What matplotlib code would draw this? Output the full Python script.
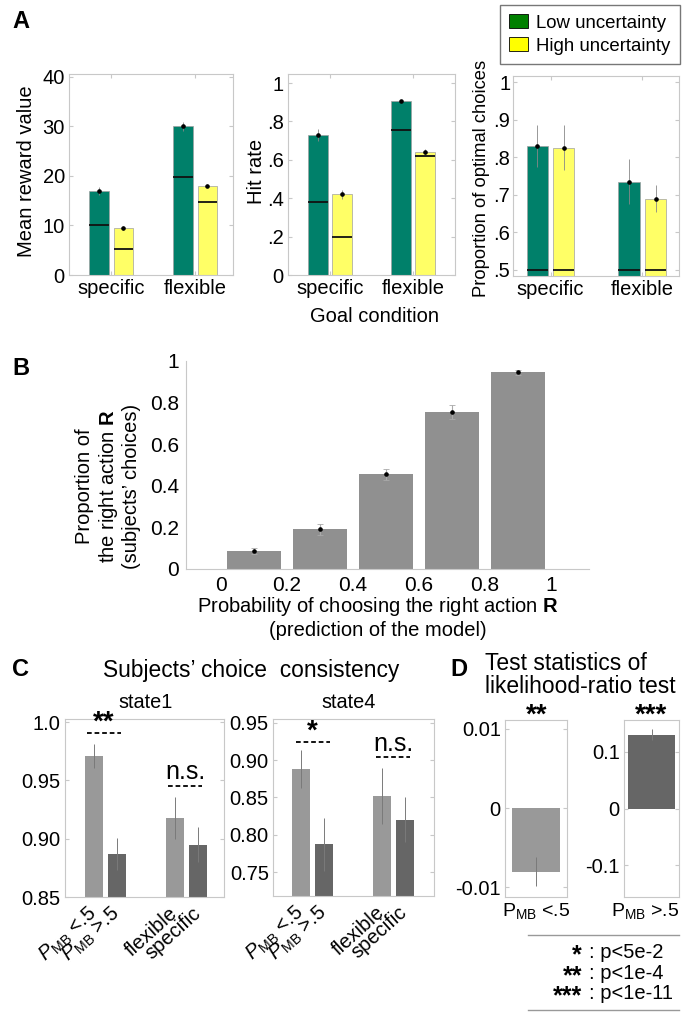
import matplotlib
matplotlib.use("Agg")
import matplotlib.pyplot as plt
from matplotlib.patches import Patch
from matplotlib.transforms import offset_copy
import numpy as np

# ---------------- data ----------------
goal_conditions = ["specific", "flexible"]

reward_low = [17.0, 30.0]
reward_high = [9.5, 18.0]
reward_low_err = [0.8, 1.0]
reward_high_err = [0.4, 0.3]
reward_low_ref = [10.0, 19.7]
reward_high_ref = [5.3, 14.8]

hit_low = [0.73, 0.905]
hit_high = [0.42, 0.64]
hit_low_err = [0.03, 0.005]
hit_high_err = [0.025, 0.015]
hit_low_ref = [0.38, 0.755]
hit_high_ref = [0.20, 0.62]

opt_low = [0.83, 0.735]
opt_high = [0.825, 0.69]
opt_low_err = [0.055, 0.06]
opt_high_err = [0.06, 0.035]
opt_low_ref = [0.50, 0.50]
opt_high_ref = [0.50, 0.50]

model_bins = [0.1, 0.3, 0.5, 0.7, 0.9]
subject_prop = [0.085, 0.19, 0.455, 0.755, 0.945]
subject_err = [0.015, 0.028, 0.025, 0.035, 0.01]

c_labels = ["$P_{\\mathrm{MB}}$ <.5", "$P_{\\mathrm{MB}}$ >.5", "flexible", "specific"]
state1_vals = [0.971, 0.887, 0.918, 0.895]
state1_err = [0.010, 0.014, 0.018, 0.015]
state4_vals = [0.888, 0.787, 0.852, 0.820]
state4_err = [0.025, 0.035, 0.037, 0.030]

d_labels = ["P$_{\\mathrm{MB}}$ <.5", "P$_{\\mathrm{MB}}$ >.5"]
d_vals = [-0.008, 0.13]
d_err = [0.0018, 0.01]

star_symbols = ["*", "**", "***"]
star_meanings = [": p<5e-2", ": p<1e-4", ": p<1e-11"]

# ---------------- style ----------------
fam = "Liberation Sans"
plt.rcParams["font.family"] = [fam, "DejaVu Sans"]
plt.rcParams["mathtext.fontset"] = "custom"
plt.rcParams["mathtext.rm"] = fam
plt.rcParams["mathtext.it"] = fam + ":italic"
plt.rcParams["mathtext.bf"] = fam + ":bold"

W, H = 682, 1013
fig = plt.figure(figsize=(W / 100, H / 100), dpi=100)


def rect(l, t, r, b):
    return [l / W, 1 - b / H, (r - l) / W, (b - t) / H]


def ftext(x, y, s, **kw):
    return fig.text(x / W, 1 - y / H, s, **kw)


GRAY_SP = "#c8c8c8"
GREEN = "#00806a"
YELLOW = "#ffff66"
TS = 14.5


def box_axes(ax):
    for sp in ax.spines.values():
        sp.set_color(GRAY_SP)
        sp.set_linewidth(0.8)
    ax.tick_params(direction="in", color=GRAY_SP, length=3, top=True, right=True,
                   labelsize=TS, pad=3)


def panel_a(ax, low, high, lerr, herr, lref, href, ylim, yticks, yticklabels, xlim):
    x = np.arange(1, len(goal_conditions) + 1)
    w, off = 0.23, 0.145
    ax.bar(x - off, low, w, color=GREEN, edgecolor="#a0a0a0", linewidth=0.5, zorder=2)
    ax.bar(x + off, high, w, color=YELLOW, edgecolor="#a0a0a0", linewidth=0.5, zorder=2)
    for xs, vals, errs, refs in [(x - off, low, lerr, lref), (x + off, high, herr, href)]:
        ax.errorbar(xs, vals, yerr=errs, fmt="none", ecolor="#888888", elinewidth=0.6, zorder=3)
        ax.plot(xs, vals, "o", color="black", ms=2.3, zorder=4)
        ax.hlines(refs, xs - w / 2, xs + w / 2, colors="#111111", linewidth=1.3, zorder=3)
    ax.set_xlim(*xlim)
    ax.set_ylim(*ylim)
    ax.set_yticks(yticks)
    ax.set_yticklabels(yticklabels)
    ax.set_xticks(x)
    ax.set_xticklabels(goal_conditions)
    box_axes(ax)
    ax.tick_params(axis="x", pad=3)


# ---------------- Panel A ----------------
a1 = fig.add_axes(rect(69, 74, 233, 275))
panel_a(a1, reward_low, reward_high, reward_low_err, reward_high_err, reward_low_ref,
        reward_high_ref, (0, 40.6), [0, 10, 20, 30, 40], ["0", "10", "20", "30", "40"],
        (0.5, 2.45))
ftext(27, 171, "Mean reward value", rotation=90, ha="center", va="center", fontsize=TS)

a2 = fig.add_axes(rect(288, 74, 455, 275))
panel_a(a2, hit_low, hit_high, hit_low_err, hit_high_err, hit_low_ref, hit_high_ref,
        (0, 1.047), [0, 0.2, 0.4, 0.6, 0.8, 1.0], ["0", ".2", ".4", ".6", ".8", "1"],
        (0.494, 2.506))
ftext(257, 171, "Hit rate", rotation=90, ha="center", va="center", fontsize=TS)

a3 = fig.add_axes(rect(513, 76, 679, 276))
panel_a(a3, opt_low, opt_high, opt_low_err, opt_high_err, opt_low_ref, opt_high_ref,
        (0.484, 1.016), [0.5, 0.6, 0.7, 0.8, 0.9, 1.0], [".5", ".6", ".7", ".8", ".9", "1"],
        (0.59, 2.40))
a3.tick_params(axis="y", pad=2)
ftext(481, 178, "Proportion of optimal choices", rotation=90, ha="center", va="center",
      fontsize=13.2)

ftext(375, 317, "Goal condition", ha="center", va="center", fontsize=TS)
ftext(12, 21, "A", fontsize=17, fontweight="bold", ha="left", va="center")

handles = [Patch(facecolor="#008000", edgecolor="black", linewidth=0.6, label="Low uncertainty"),
           Patch(facecolor="#ffff00", edgecolor="black", linewidth=0.6, label="High uncertainty")]
leg = fig.legend(handles=handles, loc="upper right", bbox_to_anchor=(680 / W, 1 - 5 / H),
                 fontsize=13.4, frameon=True, fancybox=False, handlelength=1.0,
                 handleheight=0.75, handletextpad=0.45, borderpad=0.5, labelspacing=0.3,
                 borderaxespad=0)
leg.get_frame().set_edgecolor("#555555")
leg.get_frame().set_linewidth(1.0)

# ---------------- Panel B ----------------
b = fig.add_axes(rect(186, 361, 589, 569))
b.bar(model_bins, subject_prop, 0.164, color="#909090", zorder=2)
b.errorbar(model_bins, subject_prop, yerr=subject_err, fmt="none", ecolor="#aaaaaa",
           elinewidth=0.8, capsize=2, capthick=0.6, zorder=3)
b.plot(model_bins, subject_prop, "o", color="black", ms=2.3, zorder=4)
b.set_xlim(-0.106, 1.115)
b.set_ylim(0, 1.0)
b.set_xticks([0, 0.2, 0.4, 0.6, 0.8, 1.0])
b.set_xticklabels(["0", "0.2", "0.4", "0.6", "0.8", "1"])
b.set_yticks([0, 0.2, 0.4, 0.6, 0.8, 1.0])
b.set_yticklabels(["0", "0.2", "0.4", "0.6", "0.8", "1"])
for s in ["top", "right"]:
    b.spines[s].set_visible(False)
for s in ["left", "bottom"]:
    b.spines[s].set_color(GRAY_SP)
b.tick_params(length=0, labelsize=TS + 0.5, pad=5)
ftext(108, 486, "Proportion of\nthe right action $\\mathbf{R}$\n(subjects\u2019 choices)",
      rotation=90, ha="center", va="center", fontsize=TS, linespacing=1.15)
ftext(378, 617, "Probability of choosing the right action $\\mathbf{R}$\n(prediction of the model)",
      ha="center", va="center", fontsize=TS, linespacing=1.2)
ftext(12, 368, "B", fontsize=17, fontweight="bold", ha="left", va="center")

# ---------------- Panel C ----------------
c_pos = np.array([1, 2, 4.5, 5.5])
c_colors = ["#999999", "#666666", "#999999", "#666666"]
DASH = (0, (2.6, 1.6))


def panel_c(ax, vals, errs, ylim, yticks, yticklabels, xlim):
    ax.bar(c_pos, [v - ylim[0] for v in vals], 0.78, bottom=ylim[0], color=c_colors, zorder=2)
    ax.errorbar(c_pos, vals, yerr=errs, fmt="none", ecolor="#7a7a7a", elinewidth=0.7, zorder=3)
    ax.set_xlim(*xlim)
    ax.set_ylim(*ylim)
    ax.set_yticks(yticks)
    ax.set_yticklabels(yticklabels)
    ax.set_xticks(c_pos)
    ax.set_xticklabels(c_labels, rotation=42, ha="right", va="center", rotation_mode="anchor",
                       fontsize=TS - 0.5)
    box_axes(ax)
    ax.tick_params(axis="x", length=0, pad=10)


c1 = fig.add_axes(rect(65, 719, 224, 897))
panel_c(c1, state1_vals, state1_err, (0.85, 1.0026), [0.85, 0.90, 0.95, 1.0],
        ["0.85", "0.90", "0.95", "1.0"], (-0.24, 6.63))
c1.hlines(0.991, 0.7, 2.2, colors="black", linestyles=DASH, linewidth=1.3, clip_on=False)
c1.text(1.45, 0.9885, "**", ha="center", va="bottom", fontsize=20, fontweight="bold", clip_on=False)
c1.hlines(0.945, 4.2, 5.7, colors="black", linestyles=DASH, linewidth=1.3)
c1.text(4.95, 0.9465, "n.s.", ha="center", va="bottom", fontsize=18)

c2 = fig.add_axes(rect(273, 719, 434, 896))
panel_c(c2, state4_vals, state4_err, (0.718, 0.955), [0.75, 0.80, 0.85, 0.90, 0.95],
        ["0.75", "0.80", "0.85", "0.90", "0.95"], (-0.22, 6.78))
c2.hlines(0.9245, 0.8, 2.25, colors="black", linestyles=DASH, linewidth=1.3)
c2.text(1.5, 0.921, "*", ha="center", va="bottom", fontsize=20, fontweight="bold")
c2.hlines(0.904, 4.25, 5.75, colors="black", linestyles=DASH, linewidth=1.3)
c2.text(5.0, 0.906, "n.s.", ha="center", va="bottom", fontsize=18)

ftext(12, 670, "C", fontsize=17, fontweight="bold", ha="left", va="center")
ftext(251, 670, "Subjects\u2019 choice  consistency", fontsize=16.4, ha="center", va="center")
ftext(146, 702, "state1", fontsize=14.3, ha="center", va="center")
ftext(349, 702, "state4", fontsize=14.3, ha="center", va="center")

# ---------------- Panel D ----------------
d1 = fig.add_axes(rect(505, 720, 567, 897))
d1.bar([1], [d_vals[0]], 0.79, color="#999999", zorder=2)
d1.errorbar([1], [d_vals[0]], yerr=[d_err[0]], fmt="none", ecolor="#7a7a7a", elinewidth=0.7, zorder=3)
d1.set_xlim(0.5, 1.5)
d1.set_ylim(-0.0112, 0.0111)
d1.set_yticks([-0.01, 0, 0.01])
d1.set_yticklabels(["-0.01", "0", "0.01"])
d1.set_xticks([])
box_axes(d1)

d2 = fig.add_axes(rect(624, 720, 679, 897))
d2.bar([1], [d_vals[1]], 0.87, color="#666666", zorder=2)
d2.errorbar([1], [d_vals[1]], yerr=[d_err[1]], fmt="none", ecolor="#7a7a7a", elinewidth=0.7, zorder=3)
d2.set_xlim(0.5, 1.5)
d2.set_ylim(-0.156, 0.156)
d2.set_yticks([-0.1, 0, 0.1])
d2.set_yticklabels(["-0.1", "0", "0.1"])
d2.set_xticks([])
box_axes(d2)

for ax, lab, dx in [(d1, d_labels[0], 0), (d2, d_labels[1], -6)]:
    tr = offset_copy(ax.get_xaxis_transform(), fig=fig, x=dx * 72 / 100, y=-4 * 72 / 100,
                     units="points")
    ax.text(1, 0, lab, transform=tr, ha="center", va="top", fontsize=14)

ftext(537, 716, "**", ha="center", va="center", fontsize=20, fontweight="bold")
ftext(651, 716, "***", ha="center", va="center", fontsize=20, fontweight="bold")

ftext(450, 670, "D", fontsize=17, fontweight="bold", ha="left", va="center")
ftext(485, 675, "Test statistics of\nlikelihood-ratio test", fontsize=16.5, ha="left",
      va="center", linespacing=0.95)

# star legend (one block of stars, one block of meanings)
fig.add_artist(plt.Line2D([528 / W, 679 / W], [1 - 935 / H, 1 - 935 / H], color="#999999", lw=1.0))
fig.add_artist(plt.Line2D([528 / W, 679 / W], [1 - 1010 / H, 1 - 1010 / H], color="#999999", lw=1.0))
ftext(589, 973, "\n".join(star_meanings), ha="left", va="center", fontsize=TS,
      linespacing=1.07)
ftext(582, 976, "\n".join(star_symbols), ha="right", va="center", fontsize=18,
      fontweight="bold", linespacing=0.82, multialignment="right")

fig.savefig("out.png", dpi=100)
